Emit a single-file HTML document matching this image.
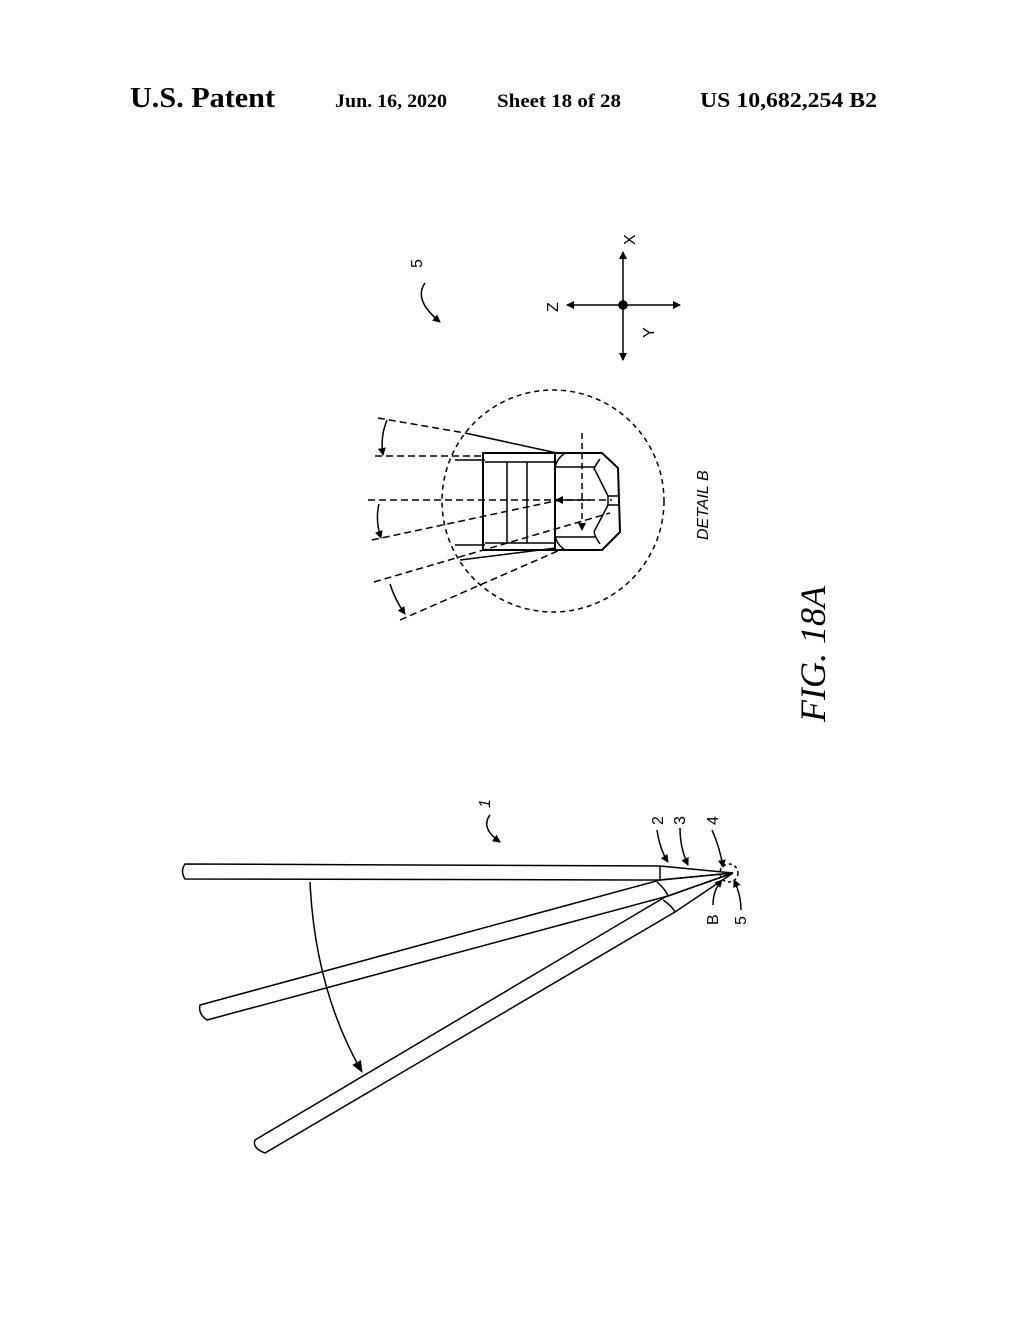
<!DOCTYPE html><html><head><style>body{margin:0;background:#fff}.s{font-family:"Liberation Serif",serif}.n{font-family:"Liberation Sans",sans-serif}</style></head><body>
<svg width="1020" height="1320" viewBox="0 0 1020 1320" xmlns="http://www.w3.org/2000/svg">
<defs><marker id="a" markerWidth="8" markerHeight="8" refX="7" refY="4" orient="auto" markerUnits="userSpaceOnUse"><path d="M0,0 L8,4 L0,8z" fill="#000"/></marker>
<marker id="b" markerWidth="12" markerHeight="10" refX="11" refY="5" orient="auto" markerUnits="userSpaceOnUse"><path d="M0,0 L12,5 L0,10z" fill="#000"/></marker></defs>
<g class="s" font-weight="bold">
<text x="130" y="107" font-size="28" textLength="145" lengthAdjust="spacingAndGlyphs">U.S. Patent</text>
<text x="335" y="107" font-size="19" textLength="112" lengthAdjust="spacingAndGlyphs">Jun. 16, 2020</text>
<text x="497" y="107" font-size="19" textLength="124" lengthAdjust="spacingAndGlyphs">Sheet 18 of 28</text>
<text x="700" y="107" font-size="21" textLength="177" lengthAdjust="spacingAndGlyphs">US 10,682,254 B2</text>
</g>
<g stroke="#000" fill="none" stroke-width="1.5">
<circle cx="553" cy="501" r="111" stroke-dasharray="5,4"/>
<line x1="368" y1="500" x2="612" y2="500" stroke-dasharray="7,4"/>
<line x1="375" y1="456" x2="485" y2="456" stroke-dasharray="7,4"/>
<line x1="378" y1="418" x2="465" y2="433" stroke-dasharray="7,4"/>
<line x1="465" y1="433" x2="557" y2="453"/>
<line x1="372" y1="540" x2="560" y2="500" stroke-dasharray="7,4"/>
<line x1="374" y1="582" x2="610" y2="513" stroke-dasharray="7,4"/>
<line x1="400" y1="620" x2="560" y2="550" stroke-dasharray="7,4"/>
<line x1="460" y1="560" x2="556" y2="548"/>
<line x1="455" y1="460" x2="485" y2="460"/>
<line x1="455" y1="545" x2="485" y2="545"/>
<rect x="483" y="453" width="72" height="97" stroke-width="2"/>
<line x1="485" y1="462" x2="555" y2="462"/><line x1="485" y1="543" x2="555" y2="543"/>
<line x1="507" y1="462" x2="507" y2="543"/><line x1="527" y1="462" x2="527" y2="543"/>
<path d="M555,453 L602,453 L618,468 L620,532 L602,550 L555,550" stroke-width="2"/>
<path d="M565,453 Q555,460 555,470 M565,550 Q555,543 555,533"/>
<line x1="555" y1="467" x2="595" y2="467"/><line x1="555" y1="537" x2="595" y2="537"/>
<path d="M600,459 Q592,470 595,470 L608,496 L620,496 M600,544 Q592,532 595,530 L608,505 L620,505 M608,496 L608,505"/>
<line x1="582" y1="433" x2="582" y2="530" stroke-dasharray="6,4" marker-end="url(#a)"/>
<line x1="590" y1="500" x2="556" y2="500" marker-end="url(#a)"/>
<path d="M387,420 Q380,437 383,455" marker-end="url(#a)"/>
<path d="M379,504 Q375,520 381,538" marker-end="url(#a)"/>
<path d="M390,584 Q395,600 405,614" marker-end="url(#a)"/>
<line x1="623" y1="305" x2="623" y2="252" marker-end="url(#a)"/>
<line x1="623" y1="305" x2="623" y2="360" marker-end="url(#a)"/>
<line x1="623" y1="305" x2="567" y2="305" marker-end="url(#a)"/>
<line x1="623" y1="305" x2="680" y2="305" marker-end="url(#a)"/>
<circle cx="623" cy="305" r="4" fill="#000"/>
<path d="M425,283 Q413,300 440,322" marker-end="url(#a)"/>
<path d="M185,864 L660,866 L733,873 L660,880 L185,879 Q180,871 185,864Z"/>
<line x1="660" y1="866" x2="660" y2="880"/>
<path d="M200,1005 L660,880 L733,873 L668,896 L207,1020 Q198,1014 200,1005Z"/>
<path d="M657,882 Q666,890 668,896"/>
<path d="M255,1140 L665,897 L733,873 L675,912 L265,1153 Q252,1148 255,1140Z"/>
<path d="M663,900 Q672,906 675,912"/>
<circle cx="729" cy="873" r="9" stroke-dasharray="3,3"/>
<path d="M310,882 Q315,990 362,1072" marker-end="url(#b)"/>
<path d="M490,815 Q480,828 500,842" marker-end="url(#a)"/>
<path d="M657,830 Q660,850 668,862" marker-end="url(#a)"/>
<path d="M680,828 Q680,848 688,865" marker-end="url(#a)"/>
<path d="M712,830 Q720,848 723,867" marker-end="url(#a)"/>
<path d="M713,905 Q713,890 722,880" marker-end="url(#a)"/>
<path d="M741,910 Q741,895 734,880" marker-end="url(#a)"/>
</g>
<g class="n" font-size="16">
<text transform="translate(422,268) rotate(-90)">5</text>
<text transform="translate(635,245) rotate(-90)">X</text>
<text transform="translate(558,312) rotate(-90)">Z</text>
<text transform="translate(654,338) rotate(-90)">Y</text>
<text transform="translate(708,540) rotate(-90)" font-style="italic">DETAIL B</text>
<text transform="translate(490,808) rotate(-90)" font-style="italic">1</text>
<text transform="translate(663,825) rotate(-90)">2</text>
<text transform="translate(685,825) rotate(-90)">3</text>
<text transform="translate(718,825) rotate(-90)">4</text>
<text transform="translate(718,925) rotate(-90)">B</text>
<text transform="translate(746,925) rotate(-90)">5</text>
</g>
<text class="s" transform="translate(825,722) rotate(-90)" font-size="36" font-style="italic">FIG. 18A</text>
</svg></body></html>
